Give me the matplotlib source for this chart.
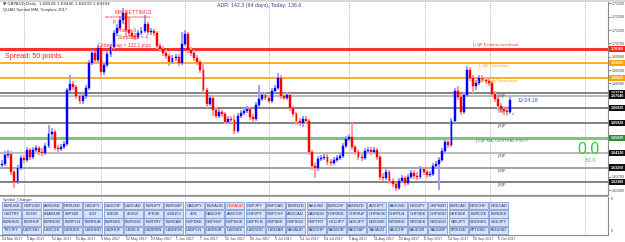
import matplotlib
matplotlib.use("Agg")
import matplotlib.pyplot as plt
from matplotlib.patches import Rectangle

plt.rcParams['font.family'] = ['Liberation Sans', 'DejaVu Sans']

# GBPAUD daily bars (open of each bar = close of the bar before)
first_open = 1.6340
closes = [1.6346, 1.6400, 1.6406, 1.6298, 1.6238, 1.6322, 1.6382, 1.6370, 1.6430, 1.6388,
          1.6430, 1.6442, 1.6418, 1.6412, 1.6454, 1.6526, 1.6538, 1.6442, 1.6436, 1.6448,
          1.6466, 1.6790, 1.6826, 1.6808, 1.6754, 1.6724, 1.6754, 1.6802, 1.6952, 1.7012,
          1.6970, 1.7042, 1.6898, 1.6940, 1.7006, 1.7048, 1.7132, 1.7162, 1.7210, 1.7252,
          1.7150, 1.7132, 1.7114, 1.7108, 1.7132, 1.7144, 1.7186, 1.7138, 1.7144, 1.7132,
          1.7054, 1.7036, 1.7012, 1.6994, 1.6958, 1.6982, 1.6988, 1.6952, 1.7066, 1.7126,
          1.7030, 1.7012, 1.6982, 1.6958, 1.6910, 1.6790, 1.6706, 1.6742, 1.6670, 1.6634,
          1.6658, 1.6646, 1.6598, 1.6616, 1.6610, 1.6544, 1.6634, 1.6652, 1.6664, 1.6676,
          1.6628, 1.6616, 1.6700, 1.6736, 1.6760, 1.6742, 1.6724, 1.6784, 1.6802, 1.6862,
          1.6754, 1.6742, 1.6760, 1.6682, 1.6646, 1.6604, 1.6592, 1.6616, 1.6604, 1.6418,
          1.6334, 1.6322, 1.6376, 1.6382, 1.6388, 1.6358, 1.6352, 1.6370, 1.6382, 1.6394,
          1.6454, 1.6496, 1.6508, 1.6448, 1.6418, 1.6388, 1.6382, 1.6424, 1.6430, 1.6418,
          1.6430, 1.6388, 1.6268, 1.6262, 1.6298, 1.6244, 1.6226, 1.6202, 1.6244, 1.6262,
          1.6232, 1.6268, 1.6292, 1.6274, 1.6268, 1.6316, 1.6298, 1.6280, 1.6286, 1.6334,
          1.6346, 1.6370, 1.6424, 1.6478, 1.6460, 1.6604, 1.6784, 1.6748, 1.6658, 1.6760,
          1.6910, 1.6862, 1.6814, 1.6832, 1.6862, 1.6850, 1.6844, 1.6832, 1.6766, 1.6736,
          1.6694, 1.6676, 1.6664, 1.6658, 1.6730]
highs = [1.6370, 1.6424, 1.6430, 1.6424, 1.6310, 1.6340, 1.6400, 1.6400, 1.6448, 1.6442,
         1.6448, 1.6460, 1.6454, 1.6442, 1.6472, 1.6580, 1.6562, 1.6550, 1.6460, 1.6466,
         1.6484, 1.6802, 1.6880, 1.6844, 1.6820, 1.6766, 1.6772, 1.6820, 1.6970, 1.7030,
         1.7024, 1.7060, 1.7054, 1.6958, 1.7024, 1.7066, 1.7150, 1.7186, 1.7234, 1.7282,
         1.7264, 1.7228, 1.7150, 1.7132, 1.7150, 1.7168, 1.7240, 1.7198, 1.7162, 1.7156,
         1.7144, 1.7072, 1.7054, 1.7030, 1.7006, 1.7000, 1.7006, 1.7006, 1.7138, 1.7150,
         1.7138, 1.7048, 1.7030, 1.7000, 1.6970, 1.6958, 1.6802, 1.6760, 1.6754, 1.6688,
         1.6676, 1.6670, 1.6658, 1.6634, 1.6634, 1.6640, 1.6652, 1.6670, 1.6682, 1.6694,
         1.6688, 1.6646, 1.6718, 1.6820, 1.6778, 1.6778, 1.6760, 1.6802, 1.6820, 1.6892,
         1.6880, 1.6772, 1.6778, 1.6772, 1.6694, 1.6658, 1.6622, 1.6634, 1.6634, 1.6616,
         1.6430, 1.6352, 1.6394, 1.6400, 1.6406, 1.6406, 1.6376, 1.6388, 1.6400, 1.6412,
         1.6472, 1.6514, 1.6526, 1.6592, 1.6460, 1.6430, 1.6406, 1.6442, 1.6448, 1.6448,
         1.6448, 1.6442, 1.6400, 1.6292, 1.6316, 1.6310, 1.6262, 1.6238, 1.6262, 1.6280,
         1.6274, 1.6286, 1.6310, 1.6310, 1.6298, 1.6334, 1.6328, 1.6310, 1.6304, 1.6352,
         1.6364, 1.6388, 1.6442, 1.6496, 1.6496, 1.6622, 1.6802, 1.6814, 1.6766, 1.6778,
         1.6934, 1.6928, 1.6880, 1.6850, 1.6880, 1.6880, 1.6868, 1.6862, 1.6844, 1.6784,
         1.6754, 1.6712, 1.6694, 1.6682, 1.6748]
lows = [1.6322, 1.6334, 1.6382, 1.6280, 1.6202, 1.6226, 1.6310, 1.6352, 1.6358, 1.6370,
        1.6376, 1.6418, 1.6400, 1.6394, 1.6400, 1.6442, 1.6508, 1.6430, 1.6418, 1.6424,
        1.6436, 1.6454, 1.6778, 1.6790, 1.6736, 1.6706, 1.6706, 1.6736, 1.6790, 1.6940,
        1.6952, 1.6958, 1.6874, 1.6880, 1.6928, 1.6988, 1.7036, 1.7114, 1.7150, 1.7192,
        1.7108, 1.7114, 1.7096, 1.7090, 1.7096, 1.7120, 1.7132, 1.7120, 1.7120, 1.7114,
        1.7036, 1.7018, 1.6994, 1.6976, 1.6934, 1.6946, 1.6964, 1.6934, 1.6940, 1.7054,
        1.7012, 1.6994, 1.6964, 1.6940, 1.6892, 1.6772, 1.6682, 1.6694, 1.6634, 1.6622,
        1.6622, 1.6628, 1.6586, 1.6586, 1.6592, 1.6526, 1.6532, 1.6622, 1.6640, 1.6652,
        1.6610, 1.6598, 1.6604, 1.6688, 1.6724, 1.6730, 1.6712, 1.6712, 1.6772, 1.6790,
        1.6736, 1.6730, 1.6730, 1.6664, 1.6628, 1.6580, 1.6574, 1.6568, 1.6586, 1.6400,
        1.6310, 1.6262, 1.6304, 1.6364, 1.6370, 1.6340, 1.6334, 1.6340, 1.6358, 1.6370,
        1.6382, 1.6442, 1.6484, 1.6430, 1.6400, 1.6370, 1.6364, 1.6370, 1.6412, 1.6400,
        1.6406, 1.6370, 1.6250, 1.6244, 1.6250, 1.6226, 1.6208, 1.6184, 1.6190, 1.6232,
        1.6214, 1.6220, 1.6256, 1.6256, 1.6250, 1.6256, 1.6280, 1.6262, 1.6268, 1.6274,
        1.6322, 1.6190, 1.6358, 1.6412, 1.6442, 1.6448, 1.6592, 1.6730, 1.6640, 1.6646,
        1.6748, 1.6844, 1.6772, 1.6790, 1.6820, 1.6838, 1.6826, 1.6814, 1.6748, 1.6718,
        1.6670, 1.6652, 1.6640, 1.6634, 1.6646]

# pivot / level lines
levels = [1.7036, 1.6952, 1.6862, 1.6772, 1.6754, 1.6682, 1.6592, 1.6502, 1.6412, 1.6325, 1.6238]
level_kind = ['red', 'orange', 'orange', 'dark', 'light', 'dark', 'dark', 'green', 'light', 'mid', 'dark']

date_labels = ['24 Mar 2017', '3 Apr 2017', '12 Apr 2017', '21 Apr 2017', '3 May 2017', '12 May 2017',
               '23 May 2017', '1 Jun 2017', '7 Jun 2017', '16 Jun 2017', '26 Jun 2017', '5 Jul 2017',
               '14 Jul 2017', '24 Jul 2017', '2 Aug 2017', '11 Aug 2017', '22 Aug 2017', '4 Sep 2017',
               '14 Sep 2017', '26 Sep 2017', '5 Oct 2017']
date_bars = list(range(0, 161, 8))
separator_bars = [7, 32, 59, 86, 112, 136.5, 157.4, 188]
price_ticks = [1.7310 - 0.008 * k for k in range(15)]

buttons = [
    ['EURUSD', 'GBPUSD', 'AUDUSD', 'NZDUSD', 'USDJPY', 'USDCHF', 'USDCAD', 'EURJPY', 'EURGBP', 'CADJPY',
     'EURAUD', 'GBPAUD', 'GBPJPY', 'GBPCAD', 'EURNZD', 'XAUUSD', 'EURCHF', 'AUDNZD', 'AUDJPY', 'XAGUSD',
     'NZDJPY', 'GBPNZD', 'EURCAD', 'NZDCHF', 'NZDCAD'],
    ['USDTRY', '#DJ30', '#NAS100', '#SP500', '#CH', '#DE30', '#ES50', '#FR40', '#GB100', '#ES',
     'CADCHF', 'AUDCHF', 'CHFJPY', 'GBPCHF', 'AUDCAD', 'CADSGD', 'CHFDKK', 'CHFHUF', 'CHFNOK', 'CHFPLN',
     'CHFSEK', 'CHFSGD', 'DKKSEK', 'EURCZK', 'EURDKK'],
    ['EURHKD', 'EURHUF', 'EURNOK', 'EURPLN', 'EURRUB', 'EURSEK', 'EURSGD', 'EURTRY', 'EURZAR', 'GBPDKK',
     'GBPHUF', 'GBPNOK', 'GBPPLN', 'GBPSEK', 'GBPSGD', 'GBPTRY', 'HKDJPY', 'NOKJPY', 'NOKSEK', 'NZDDKK',
     'NZDSEK', 'NZDSGD', 'SEKJPY', 'SGDHKD', 'SGDJPY'],
    ['TRYJPY', 'USDCNH', 'USDCZK', 'USDDKK', 'USDHKD', 'USDHUF', 'USDILS', 'USDMXN', 'USDNOK', 'USDPLN',
     'USDRUB', 'USDSEK', 'USDSGD', 'USDZAR', 'XAGAUD', 'XAGCHF', 'XAGEUR', 'XAGGBP', 'XAUAUD', 'XAUCHF',
     'XAUEUR', 'XAUGBP', 'XPDUSD', 'XPTUSD', 'XNGUSD'],
]

W, H = 625, 242


def box(x0, y0, x1, y1):
    return [x0 / W, 1 - y1 / H, (x1 - x0) / W, (y1 - y0) / H]


def fx(px):
    return px / W


def fy(py):
    return 1 - py / H


fig = plt.figure(figsize=(6.25, 2.42), dpi=100)
fig.patch.set_facecolor('white')

ax = fig.add_axes(box(0, 2, 608, 195))
axs = fig.add_axes(box(0, 197, 608, 234.5))

n = len(closes)
idx = list(range(n))
opens = [first_open] + closes[:-1]
up = [c >= o for o, c in zip(opens, closes)]
body_col = ['#0000ff' if u else '#ff0000' for u in up]
wick_col = ['#a0a0ff' if u else '#ffa0a0' for u in up]

for sb in separator_bars:
    ax.axvline(sb, color='#a0a0a0', lw=0.6, ls=(0, (1, 1.5)), zorder=0)
    axs.axvline(sb, color='#a0a0a0', lw=0.6, ls=(0, (1, 1.5)), zorder=0)

style = {
    'red': ('#ff3030', 2.2), 'orange': ('#ffa000', 1.2), 'dark': ('#606060', 1.1),
    'light': ('#b4b4b4', 1.3), 'mid': ('#8c8c8c', 1.1), 'green': ('#80c480', 2.2),
}
for lv, kind in zip(levels, level_kind):
    c, lw = style[kind]
    ax.axhline(lv, color=c, lw=lw, zorder=1)

ax.vlines(idx, lows, highs, colors=wick_col, lw=1.5, zorder=2)
ax.bar(idx, [c - o for o, c in zip(opens, closes)], bottom=opens, width=0.62,
       color=body_col, edgecolor=body_col, linewidth=0.3, zorder=3)

ax.set_xlim(-0.65, 195.5)
ax.set_ylim(1.6160, 1.7318)
ax.set_xticks([])
ax.yaxis.tick_right()
# scale labels hidden where a level tag sits on top of them
shown = [t for t in price_ticks if min(abs(t - lv) for lv in levels) > 0.0028]
ax.set_yticks(shown)
ax.set_yticklabels(['%.5f' % t for t in shown])
ax.tick_params(axis='y', length=2, width=0.5, color='#666666', labelsize=2.6,
               labelcolor='#444444', pad=1)
for s in ['top', 'left']:
    ax.spines[s].set_visible(False)
for s in ['right', 'bottom']:
    ax.spines[s].set_color('#8a8a8a')
    ax.spines[s].set_linewidth(0.8)

# price tags on the scale
tag_bg = {'red': '#ff2020', 'orange': '#ffa000', 'dark': '#101010', 'light': '#101010',
          'mid': '#101010', 'green': '#2e8b2e'}
for lv, kind in zip(levels, level_kind):
    ax.text(1.004, lv, '%.5f' % lv, transform=ax.get_yaxis_transform(), fontsize=2.6,
            color='white', fontweight='bold', va='center', ha='left',
            bbox=dict(boxstyle='square,pad=0.3', fc=tag_bg[kind], ec='none'), zorder=6,
            clip_on=False)

# level captions
ax.text(152, 1.7036 + 0.0010, '[+3]P Extreme overshoot', fontsize=3.0, color='#ff3030', va='bottom')
ax.text(154, 1.6952 - 0.0008, '[+2]P Overshoot', fontsize=3.0, color='#ffa000', va='top')
ax.text(153, 1.6862 - 0.0008, '[+1]P Daily Resistance', fontsize=3.0, color='#ffa000', va='top')
ax.text(153, 1.6502 - 0.0008, '[+0]P MA, CENTRAL PIVOT', fontsize=3.0, color='#3a9a3a', va='top')
for lv in [1.6772, 1.6682, 1.6592, 1.6412, 1.6325, 1.6238]:
    ax.text(160, lv - 0.0008, '[M]P', fontsize=3.0, color='#555555', va='top')

# text overlays
fig.text(fx(3), fy(4.5), '\u25bc GBPAUD,Daily  1.68528 1.69446 1.68209 1.69394', fontsize=3.0,
         color='#333333', va='center', family=['DejaVu Sans'])
fig.text(fx(3), fy(10.5), 'QUAD Symbol MM, Template 2017', fontsize=3.0, color='#333333', va='center')
fig.text(fx(217), fy(6), 'ADR: 142.3 (64 days), Today: 136.6', fontsize=3.8, color='#3a3a8a', va='center')

red_txt = '#ff3030'
fig.text(fx(115), fy(13), 'MM SETTINGS', fontsize=3.8, color=red_txt, va='center')
fig.text(fx(105), fy(18), '=================', fontsize=3.4, color=red_txt, va='center')
fig.text(fx(113), fy(23), 'P = 1', fontsize=3.6, color=red_txt, va='center')
fig.text(fx(118), fy(30), 'Risk = 0', fontsize=3.6, color=red_txt, va='center')
fig.text(fx(118), fy(38), 'StepBack = 4', fontsize=3.6, color=red_txt, va='center')
fig.text(fx(98), fy(45.5), 'Order Gap = 122.1 pips', fontsize=3.6, color=red_txt, va='center')
fig.text(fx(5), fy(57), 'Spread: 50 points.', fontsize=5.2, color='#ff2020', va='center')

fig.text(fx(518), fy(100), '12:04:18', fontsize=3.8, color='#2a55cc', va='center')
fig.text(fx(512), fy(116), '^', fontsize=3.5, color='#2a55cc', va='center')
fig.text(fx(589), fy(149), '0.0', fontsize=11.5, color='#33cc33', va='center', ha='center')
fig.text(fx(590), fy(160), '-51.0', fontsize=3.6, color='#33cc33', va='center', ha='center')

# top window strip
fig.patches.append(Rectangle((0, fy(1.5)), 1, 1.5 / H, transform=fig.transFigure,
                             fc='#d8d8d8', ec='none'))

# symbol changer sub window
axs.set_xlim(-0.65, 195.5)
axs.set_ylim(0, 1)
axs.set_yticks([])
axs.set_xticks(date_bars)
axs.set_xticklabels(date_labels, ha='left')
axs.tick_params(axis='x', length=1.5, width=0.5, color='#666666', labelsize=2.6,
                labelcolor='#444444', pad=0.5)
for s in ['top', 'left']:
    axs.spines[s].set_visible(False)
for s in ['right', 'bottom']:
    axs.spines[s].set_color('#8a8a8a')
    axs.spines[s].set_linewidth(0.8)
fig.patches.append(Rectangle((0, fy(197)), fx(608), 1.3 / H, transform=fig.transFigure,
                             fc='#a8a8a8', ec='none'))
fig.text(fx(3), fy(200.3), 'Symbol_Changer', fontsize=2.8, color='#444444', va='center')
fig.text(fx(611), fy(199.5), '0', fontsize=2.6, color='#444444', va='center')
fig.text(fx(611), fy(231), '0', fontsize=2.6, color='#444444', va='center')

for r, row in enumerate(buttons):
    for k, name in enumerate(row):
        x0 = 2 + 20.3 * k
        y0 = 202 + 8.2 * r
        fig.patches.append(Rectangle((fx(x0), fy(y0 + 7.4)), 19 / W, 7.4 / H, transform=fig.transFigure,
                                     fc='#d6e2f6', ec='#7c9ed6', lw=0.6))
        fig.text(fx(x0 + 9.5), fy(y0 + 3.7), name, fontsize=2.9, ha='center', va='center',
                 color='#ff2020' if name == 'GBPAUD' else '#1c2c5c')

fig.savefig('out.png', dpi=100)
